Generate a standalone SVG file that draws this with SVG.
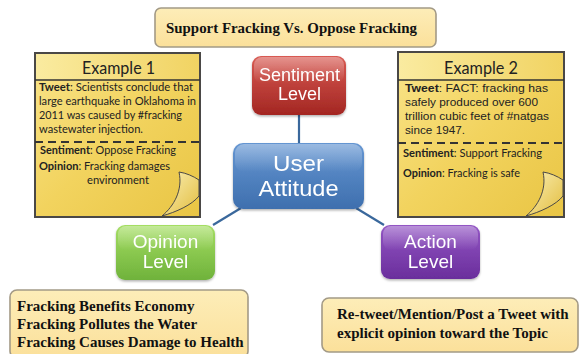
<svg xmlns="http://www.w3.org/2000/svg" width="579" height="354" viewBox="0 0 579 354">
<defs>
<linearGradient id="gNote" x1="0" y1="0" x2="1" y2="1">
<stop offset="0" stop-color="#F9E48A"/>
<stop offset="0.5" stop-color="#F2D35E"/>
<stop offset="1" stop-color="#E9C544"/>
</linearGradient>
<linearGradient id="gHead" x1="0" y1="0" x2="1" y2="0">
<stop offset="0" stop-color="#FAEBA0"/>
<stop offset="1" stop-color="#F1D362"/>
</linearGradient>
<linearGradient id="gBox" x1="0" y1="0" x2="0" y2="1">
<stop offset="0" stop-color="#FDEDB8"/>
<stop offset="1" stop-color="#FBE09A"/>
</linearGradient>
<linearGradient id="gRed" x1="0" y1="0" x2="0" y2="1">
<stop offset="0" stop-color="#D85A52"/>
<stop offset="1" stop-color="#A32622"/>
</linearGradient>
<linearGradient id="gBlue" x1="0" y1="0" x2="0" y2="1">
<stop offset="0" stop-color="#6596D2"/>
<stop offset="1" stop-color="#3E6FAE"/>
</linearGradient>
<linearGradient id="gGreen" x1="0" y1="0" x2="0" y2="1">
<stop offset="0" stop-color="#A5DE63"/>
<stop offset="1" stop-color="#6FB23B"/>
</linearGradient>
<linearGradient id="gPurple" x1="0" y1="0" x2="0" y2="1">
<stop offset="0" stop-color="#9356C4"/>
<stop offset="1" stop-color="#6A2E9C"/>
</linearGradient>
<linearGradient id="gShine" x1="0" y1="0" x2="0" y2="1">
<stop offset="0" stop-color="#FFFFFF" stop-opacity="0.35"/>
<stop offset="1" stop-color="#FFFFFF" stop-opacity="0"/>
</linearGradient>
<linearGradient id="gCurl" x1="0" y1="0" x2="1" y2="1">
<stop offset="0" stop-color="#FBF0B8"/>
<stop offset="1" stop-color="#E2BD3E"/>
</linearGradient>
<filter id="sh" x="-10%" y="-10%" width="120%" height="130%">
<feDropShadow dx="0" dy="1.5" stdDeviation="1.2" flood-color="#000" flood-opacity="0.3"/>
</filter>
</defs>
<style>
.box{fill:url(#gBox);stroke:#A39A86;stroke-width:1.6}
.serif{font-family:"Liberation Serif","Times New Roman",serif;font-weight:bold;fill:#111}
.note{fill:url(#gNote);stroke:#4A4846;stroke-width:2}
.ntitle{font-family:Lato,"Open Sans",sans-serif;font-size:17.5px;fill:#222}
.cal{font-family:Lato,"Open Sans",sans-serif;font-size:12px;fill:#222}
.ari{font-family:"Liberation Sans",Arial,sans-serif;font-size:11.8px;fill:#222}
.b{font-weight:bold}
.lvl{font-family:"Liberation Sans",Arial,sans-serif;fill:#fff;text-anchor:middle}
.conn{stroke:#3A689C;stroke-width:2.2;fill:none}
.curl{fill:url(#gCurl);stroke:#4A4846;stroke-width:1}
</style>

<g id="connectors">
<line class="conn" x1="299" y1="115" x2="299" y2="143"/>
<line class="conn" x1="241" y1="208" x2="213" y2="225"/>
<line class="conn" x1="356" y1="208" x2="384" y2="225"/>
</g>

<g id="title">
<rect class="box" x="155" y="8" width="281" height="39" rx="6"/>
<text class="serif" x="166" y="33" font-size="15.5" textLength="251" lengthAdjust="spacingAndGlyphs">Support Fracking Vs. Oppose Fracking</text>
</g>

<g id="example1">
<rect class="note" x="35" y="53" width="165" height="164"/>
<rect x="36" y="54" width="163" height="26" fill="url(#gHead)"/>
<line x1="35" y1="80" x2="200" y2="80" stroke="#333" stroke-width="1.5"/>
<text class="ntitle" x="82" y="74" textLength="73" lengthAdjust="spacingAndGlyphs">Example 1</text>
<text class="cal" x="39" y="91" textLength="154" lengthAdjust="spacingAndGlyphs"><tspan class="b">Tweet</tspan>: Scientists conclude that</text>
<text class="cal" x="39" y="105" textLength="157" lengthAdjust="spacingAndGlyphs">large earthquake in Oklahoma in</text>
<text class="cal" x="39" y="119" textLength="143" lengthAdjust="spacingAndGlyphs">2011 was caused by #fracking</text>
<text class="cal" x="39" y="133" textLength="104" lengthAdjust="spacingAndGlyphs">wastewater injection.</text>
<line x1="35" y1="142" x2="200" y2="142" stroke="#333" stroke-width="2" stroke-dasharray="8,5"/>
<text class="cal" x="40" y="154" textLength="136" lengthAdjust="spacingAndGlyphs"><tspan class="b">Sentiment</tspan>: Oppose Fracking</text>
<text class="cal" x="39" y="170" textLength="131" lengthAdjust="spacingAndGlyphs"><tspan class="b">Opinion</tspan>: Fracking damages</text>
<text class="cal" x="87" y="184" textLength="62" lengthAdjust="spacingAndGlyphs">environment</text>
<path class="curl" d="M199,180 C193,176 186,173 179,172 C183,190 174,206 162,216 C176,212 192,205 199,196 Z"/>
</g>

<g id="example2">
<rect class="note" x="398" y="52" width="166" height="165"/>
<rect x="399" y="53" width="164" height="27" fill="url(#gHead)"/>
<line x1="398" y1="80" x2="564" y2="80" stroke="#333" stroke-width="1.5"/>
<text class="ntitle" x="444" y="74" textLength="74" lengthAdjust="spacingAndGlyphs">Example 2</text>
<text class="ari" x="405" y="92" textLength="143" lengthAdjust="spacingAndGlyphs"><tspan class="b">Tweet</tspan>: FACT: fracking has</text>
<text class="ari" x="405" y="106" textLength="133" lengthAdjust="spacingAndGlyphs">safely produced over 600</text>
<text class="ari" x="405" y="120" textLength="144" lengthAdjust="spacingAndGlyphs">trillion cubic feet of #natgas</text>
<text class="ari" x="405" y="134" textLength="60" lengthAdjust="spacingAndGlyphs">since 1947.</text>
<line x1="398" y1="143" x2="564" y2="143" stroke="#333" stroke-width="2" stroke-dasharray="8,5"/>
<text class="cal" x="403" y="157" textLength="139" lengthAdjust="spacingAndGlyphs"><tspan class="b">Sentiment</tspan>: Support Fracking</text>
<text class="cal" x="403" y="177" textLength="117" lengthAdjust="spacingAndGlyphs"><tspan class="b">Opinion</tspan>: Fracking is safe</text>
<path class="curl" d="M563,180 C557,176 550,173 543,172 C547,190 538,206 526,216 C540,212 556,205 563,196 Z"/>
</g>

<g id="sentiment" filter="url(#sh)">
<rect x="252" y="56" width="94" height="59" rx="9" fill="url(#gRed)"/>
<rect x="254" y="57" width="90" height="26" rx="8" fill="url(#gShine)"/>
<text class="lvl" x="299.5" y="81" font-size="18">Sentiment</text>
<text class="lvl" x="299.5" y="100" font-size="18">Level</text>
</g>

<g id="user-attitude" filter="url(#sh)">
<rect x="233" y="143" width="131" height="66" rx="10" fill="url(#gBlue)"/>
<rect x="235" y="144" width="127" height="28" rx="9" fill="url(#gShine)"/>
<text class="lvl" x="298.5" y="171" font-size="22" textLength="51" lengthAdjust="spacingAndGlyphs">User</text>
<text class="lvl" x="298.5" y="196" font-size="22" textLength="80" lengthAdjust="spacingAndGlyphs">Attitude</text>
</g>

<g id="opinion" filter="url(#sh)">
<rect x="116" y="225" width="99" height="55" rx="9" fill="url(#gGreen)"/>
<rect x="118" y="226" width="95" height="24" rx="8" fill="url(#gShine)"/>
<text class="lvl" x="165.5" y="248" font-size="19">Opinion</text>
<text class="lvl" x="165.5" y="268" font-size="19">Level</text>
</g>

<g id="action" filter="url(#sh)">
<rect x="381" y="225" width="99" height="54" rx="9" fill="url(#gPurple)"/>
<rect x="383" y="226" width="95" height="24" rx="8" fill="url(#gShine)"/>
<text class="lvl" x="430.5" y="248" font-size="19">Action</text>
<text class="lvl" x="430.5" y="268" font-size="19">Level</text>
</g>

<g id="opinion-examples">
<rect class="box" x="10" y="290" width="238" height="68" rx="7"/>
<text class="serif" x="17" y="311" font-size="15">Fracking Benefits Economy</text>
<text class="serif" x="17" y="329" font-size="15">Fracking Pollutes the Water</text>
<text class="serif" x="17" y="347" font-size="15">Fracking Causes Damage to Health</text>
</g>

<g id="action-examples">
<rect class="box" x="322" y="298" width="256" height="54" rx="7"/>
<text class="serif" x="337" y="319" font-size="15">Re-tweet/Mention/Post a Tweet with</text>
<text class="serif" x="337" y="338" font-size="15">explicit opinion toward the Topic</text>
</g>
</svg>
